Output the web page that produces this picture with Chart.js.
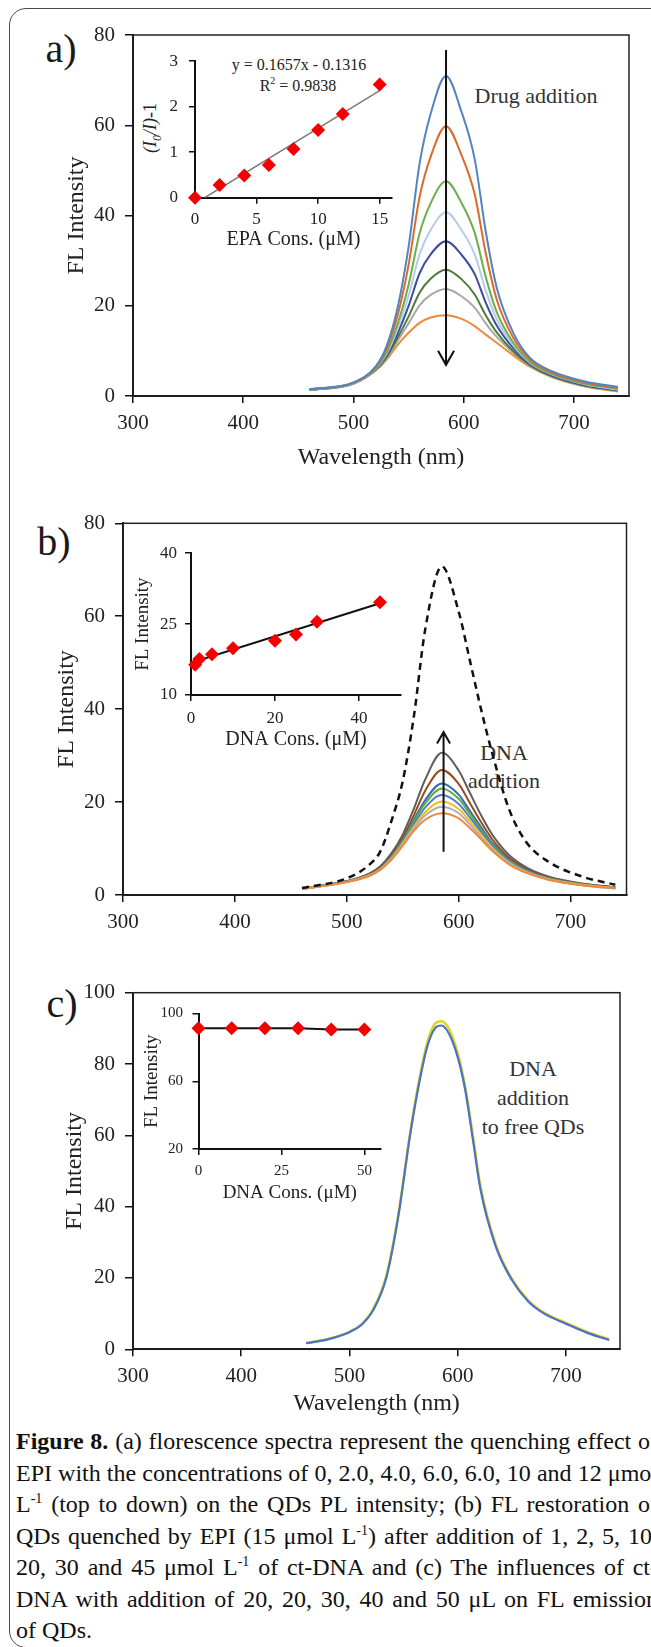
<!DOCTYPE html>
<html>
<head>
<meta charset="utf-8">
<title>Figure 8</title>
<script src="https://cdn.jsdelivr.net/npm/chart.js@4.4.1/dist/chart.umd.min.js"></script>
<style>
  body { margin: 0; width: 651px; height: 1647px; overflow: hidden; background: #fff; position: relative;
         font-family: "Liberation Serif", "Times New Roman", serif; color: #222; }
  canvas { position: absolute; }
  .frame { position: absolute; left: 9px; top: 8px; width: 720px; height: 1640px; box-sizing: border-box;
           border: 1.5px solid #4a4a4a; border-radius: 17px; }
  .lbl { position: absolute; white-space: nowrap; transform: translate(-50%, -50%); line-height: 1; }
  .panel { font-size: 40px; color: #1a1a1a; }
  .note { font-size: 22px; color: #333; text-align: center; line-height: 29px; }
  .cap { position: absolute; left: 16px; width: 642px; height: 31.5px; font-size: 24px; line-height: 31.5px;
         white-space: nowrap; text-align: justify; text-align-last: justify; color: #111; }
  .cap sup { font-size: 14px; vertical-align: 0; position: relative; top: -9px; line-height: 0; }
</style>
</head>
<body>
<div class="frame"></div>

<div class="lbl panel" style="left:61px;top:49px">a)</div>
<div class="lbl panel" style="left:54px;top:542px">b)</div>
<div class="lbl panel" style="left:62px;top:1004px">c)</div>

<div class="lbl note" style="left:536px;top:95px">Drug addition</div>
<div class="lbl note" style="left:504px;top:767px;line-height:28px">DNA<br>addition</div>
<div class="lbl note" style="left:533px;top:1097px">DNA<br>addition<br>to free QDs</div>

<div class="lbl" style="left:299px;top:65px;font-size:16px">y = 0.1657x - 0.1316</div>
<div class="lbl" style="left:298px;top:85px;font-size:16px">R<sup style="font-size:10px">2</sup> = 0.9838</div>
<div class="lbl" style="left:152px;top:128px;font-size:18px;transform:translate(-50%,-50%) rotate(-90deg)"><i>(I<sub style="font-size:12px">0</sub>/I)</i>-1</div>

<div class="cap" style="top:1426px"><b>Figure 8.</b> (a) florescence spectra represent the quenching effect of</div>
<div class="cap" style="top:1457.5px">EPI with the concentrations of 0, 2.0, 4.0, 6.0, 6.0, 10 and 12 μmol</div>
<div class="cap" style="top:1489px">L<sup>-1</sup> (top to down) on the QDs PL intensity; (b) FL restoration of</div>
<div class="cap" style="top:1520.5px">QDs quenched by EPI (15 μmol L<sup>-1</sup>) after addition of 1, 2, 5, 10,</div>
<div class="cap" style="top:1552px">20, 30 and 45 μmol L<sup>-1</sup> of ct-DNA and (c) The influences of ct-</div>
<div class="cap" style="top:1583.5px">DNA with addition of 20, 20, 30, 40 and 50 μL on FL emission</div>
<div class="cap" style="top:1615px;text-align-last:left">of QDs.</div>

<canvas id="chartA" width="651" height="480" style="left:0;top:0"></canvas>
<canvas id="chartB" width="651" height="460" style="left:0;top:480px"></canvas>
<canvas id="chartC" width="651" height="490" style="left:0;top:940px"></canvas>
<canvas id="insetA" width="272" height="215" style="left:130px;top:40px"></canvas>
<canvas id="insetB" width="291" height="220" style="left:120px;top:535px"></canvas>
<canvas id="insetC" width="266" height="210" style="left:125px;top:995px"></canvas>

<script>
// panel a: QD spectra with EPI 0 ... 15 µM (top to bottom)
const wlA = [460, 500, 520, 530, 540, 550, 560, 570, 584, 598, 610, 620, 630, 645, 660, 680, 710, 740];
const epi0  = [1.5, 3.0, 6.5, 11.0, 19.5, 33.0, 51.5, 62.5, 70.9, 63.0, 52.5, 36.5, 24.0, 14.0, 8.5, 5.5, 3.2, 2.0];
const epi2  = [1.5, 2.9, 6.3, 10.4, 17.8, 29.0, 44.1, 53.0, 59.8, 53.4, 44.7, 31.7, 21.4, 12.9, 8.1, 5.2, 3.0, 1.8];
const epi4  = [1.4, 2.9, 6.1, 9.7, 15.9, 24.6, 36.0, 42.7, 47.6, 42.8, 36.2, 26.4, 18.6, 11.8, 7.6, 4.9, 2.7, 1.6];
const epi6  = [1.4, 2.8, 6.0, 9.3, 14.8, 22.2, 31.4, 36.8, 40.7, 36.8, 31.4, 23.4, 17.0, 11.2, 7.4, 4.8, 2.6, 1.4];
const epi8  = [1.4, 2.8, 5.9, 8.9, 13.8, 19.9, 27.2, 31.4, 34.3, 31.3, 27.0, 20.7, 15.6, 10.6, 7.1, 4.6, 2.4, 1.3];
const epi10 = [1.3, 2.8, 5.8, 8.6, 12.9, 17.6, 22.9, 26.0, 28.0, 25.9, 22.5, 17.9, 14.1, 9.9, 6.9, 4.4, 2.3, 1.2];
const epi12 = [1.3, 2.7, 5.7, 8.3, 12.2, 16.1, 20.1, 22.4, 23.7, 22.1, 19.6, 16.1, 13.1, 9.6, 6.7, 4.3, 2.2, 1.1];
const epi15 = [1.3, 2.7, 5.6, 8.0, 11.3, 14.0, 16.2, 17.4, 17.9, 17.1, 15.5, 13.6, 11.8, 9.0, 6.5, 4.2, 2.1, 1.0];
const colorsA = ['#5484C0', '#DC6A2A', '#6CAE4A', '#B5CBEA', '#3C4CA2', '#4E7C38', '#A8A8A8', '#EF8A3A'];

// panel b: free QDs (dashed) and quenched QDs after DNA 0 ... 45 µM
const wlB = [460, 500, 520, 530, 540, 550, 560, 570, 585, 600, 610, 620, 630, 645, 660, 680, 710, 740];
const qdsOnly = [1.5, 3.6, 6.5, 9.4, 16.0, 24.5, 38.5, 57.0, 70.7, 61.0, 50.5, 40.0, 30.5, 18.5, 11.5, 7.2, 4.0, 2.2];
const dna0  = [1.3, 2.8, 4.1, 5.4, 7.6, 10.6, 13.8, 16.2, 17.6, 16.5, 14.4, 12.0, 9.5, 6.6, 4.8, 3.3, 2.1, 1.4];
const dna1  = [1.3, 2.8, 4.15, 5.5, 7.75, 10.9, 14.3, 17.1, 19.0, 17.6, 15.2, 12.4, 9.9, 6.8, 4.9, 3.4, 2.1, 1.4];
const dna2  = [1.3, 2.8, 4.2, 5.55, 7.9, 11.1, 14.7, 17.8, 20.1, 18.5, 15.9, 13.0, 10.2, 7.0, 5.0, 3.4, 2.2, 1.5];
const dna5  = [1.3, 2.9, 4.25, 5.65, 8.0, 11.3, 15.2, 18.8, 21.5, 19.6, 16.7, 13.6, 10.6, 7.2, 5.2, 3.5, 2.2, 1.5];
const dna10 = [1.3, 2.9, 4.3, 5.7, 8.2, 11.6, 15.8, 19.7, 22.9, 20.7, 17.5, 14.1, 10.9, 7.4, 5.3, 3.6, 2.3, 1.5];
const dna20 = [1.4, 2.9, 4.35, 5.8, 8.3, 11.8, 16.2, 20.4, 24.0, 21.6, 18.1, 14.6, 11.2, 7.6, 5.4, 3.6, 2.3, 1.6];
const dna30 = [1.4, 2.9, 4.5, 6.0, 8.6, 12.3, 17.2, 22.4, 26.9, 23.9, 19.8, 15.7, 12.0, 8.0, 5.7, 3.8, 2.4, 1.6];
const dna45 = [1.4, 3.0, 4.6, 6.2, 9.0, 13.0, 18.6, 24.8, 30.6, 26.8, 22.0, 17.2, 13.0, 8.6, 6.0, 4.0, 2.5, 1.7];
const colorsB = ['#EF8A3C', '#B0B0B0', '#F2BE1A', '#4C7ED0', '#64A844', '#2F6EB5', '#A0481A', '#5F5F5F'];

// panel c: free QDs with and without DNA
const wlC = [460, 480, 500, 511, 522, 534, 545, 556, 564, 572, 579, 585, 592, 600, 607, 614, 621, 635, 650, 665, 680, 700, 720, 740];
const qdsFree = [1.7, 2.8, 4.8, 6.8, 11.0, 20.0, 37.0, 60.0, 74.0, 85.0, 90.0, 90.8, 88.5, 82.0, 72.7, 59.0, 45.0, 29.0, 19.5, 13.5, 10.0, 7.2, 4.6, 2.6];
const qdsDna  = [1.8, 2.9, 4.9, 7.0, 11.3, 20.5, 37.5, 60.5, 74.8, 86.0, 91.3, 92.0, 89.8, 83.0, 73.5, 60.0, 45.8, 29.5, 19.8, 13.8, 10.2, 7.4, 4.8, 2.8];

// insets
const epaConc = [0, 2, 4, 6, 8, 10, 12, 15];
const epaRatio = [0, 0.28, 0.49, 0.72, 1.07, 1.49, 1.84, 2.49];
const epaFitX = [0.79, 15];
const epaFitY = [0, 2.354];
const dnaConcB = [1, 2, 5, 10, 20, 25, 30, 45];
const dnaFlB = [16.4, 17.6, 18.6, 19.9, 21.5, 22.8, 25.5, 29.6];
const dnaFitX = [0, 45];
const dnaFitY = [16.8, 29.4];
const dnaConcC = [0, 10, 20, 30, 40, 50];
const dnaFlC = [91.3, 91.3, 91.3, 91.3, 90.6, 90.6];

// ticks
const wlTicks = [300, 400, 500, 600, 700];
const flTicksAB = [0, 20, 40, 60, 80];
const flTicksC = [0, 20, 40, 60, 80, 100];
const epaTicks = [0, 5, 10, 15];
const ratioTicks = [0, 1, 2, 3];
const dnaTicksB = [0, 20, 40];
const insetTicksB = [10, 25, 40];
const dnaTicksC = [0, 25, 50];
const insetTicksC = [20, 60, 100];

const SERIF = "'Liberation Serif', 'Times New Roman', serif";
Chart.defaults.font.family = SERIF;
Chart.defaults.color = '#222';
Chart.defaults.animation = false;

const xy = (xs, ys) => xs.map((x, i) => ({ x, y: ys[i] }));

function axis(o) {
  return {
    type: 'linear', min: o.min, max: o.max,
    afterBuildTicks: s => { s.ticks = o.ticks.map(v => ({ value: v })); },
    afterFit: s => { if (s.isHorizontal()) s.height = o.size; else s.width = o.size; },
    border: { display: true, color: '#111', width: 2 },
    grid: { drawOnChartArea: false, drawTicks: true, tickLength: o.tickLen, color: '#111', lineWidth: 1.5 },
    ticks: { font: { family: SERIF, size: o.font }, color: '#222', padding: o.pad, maxRotation: 0, autoSkip: false },
    title: o.title
      ? { display: true, text: o.title, font: { family: SERIF, size: o.titleSize }, color: '#222', padding: o.titlePad }
      : { display: false }
  };
}

const boxPlugin = {
  id: 'box',
  afterDatasetsDraw(chart) {
    const { ctx, chartArea: a } = chart;
    ctx.save();
    ctx.strokeStyle = '#222';
    ctx.lineWidth = 1.5;
    ctx.strokeRect(a.left, a.top, a.right - a.left, a.bottom - a.top);
    ctx.restore();
  }
};

const arrowPlugin = {
  id: 'arrow',
  afterDatasetsDraw(chart, args, o) {
    const { ctx } = chart;
    const x = chart.scales.x.getPixelForValue(o.x);
    const y0 = chart.scales.y.getPixelForValue(o.from);
    const y1 = chart.scales.y.getPixelForValue(o.to);
    const dir = Math.sign(y1 - y0);
    ctx.save();
    ctx.strokeStyle = '#111';
    ctx.lineWidth = 2;
    ctx.beginPath();
    ctx.moveTo(x, y0);
    ctx.lineTo(x, y1);
    ctx.moveTo(x - o.head, y1 - dir * o.len);
    ctx.lineTo(x, y1);
    ctx.lineTo(x + o.head, y1 - dir * o.len);
    ctx.stroke();
    ctx.restore();
  }
};

function mainChart(id, datasets, o, plugins, arrow) {
  return new Chart(document.getElementById(id), {
    type: 'line',
    data: { datasets },
    options: {
      responsive: false, events: [],
      layout: { padding: { top: o.padTop, right: o.padRight, bottom: 0, left: 0 } },
      elements: { point: { radius: 0 }, line: { borderWidth: 2, cubicInterpolationMode: 'monotone' } },
      plugins: { legend: { display: false }, tooltip: { enabled: false }, arrow: arrow || {} },
      scales: {
        x: axis({ min: 300, max: 750, ticks: wlTicks, size: o.xSize, tickLen: 7, font: 21, pad: 8,
                  title: o.xTitle, titleSize: 24, titlePad: { top: 0, bottom: o.xTitlePad } }),
        y: axis({ min: 0, max: o.yMax, ticks: o.yTicks, size: o.ySize, tickLen: 8, font: 21, pad: 10,
                  title: 'FL Intensity', titleSize: 24, titlePad: { top: o.yTitlePad, bottom: 0 } })
      }
    },
    plugins
  });
}

function insetChart(id, datasets, o) {
  return new Chart(document.getElementById(id), {
    type: 'line',
    data: { datasets },
    options: {
      responsive: false, events: [],
      layout: { padding: { top: o.padTop, right: o.padRight, bottom: 0, left: 0 } },
      plugins: { legend: { display: false }, tooltip: { enabled: false } },
      scales: {
        x: axis({ min: o.xMin, max: o.xMax, ticks: o.xTicks, size: o.xSize, tickLen: 6, font: o.font, pad: o.xPad,
                  title: o.xTitle, titleSize: o.xTitleSize, titlePad: { top: 0, bottom: o.xTitlePad } }),
        y: axis({ min: o.yMin, max: o.yMax, ticks: o.yTicks, size: o.ySize, tickLen: 6, font: o.font, pad: o.yPad,
                  title: o.yTitle, titleSize: 19, titlePad: { top: o.yTitlePad, bottom: 0 } })
      }
    }
  });
}

const diamonds = (xs, ys) => ({
  data: xy(xs, ys), showLine: false, clip: false,
  pointStyle: 'rectRot', pointRadius: 7, pointBackgroundColor: '#F40000', pointBorderColor: '#F40000', pointBorderWidth: 0
});

// ---- panel a
mainChart('chartA',
  [epi0, epi2, epi4, epi6, epi8, epi10, epi12, epi15].map((ys, i) => ({ data: xy(wlA, ys), borderColor: colorsA[i] })),
  { padTop: 35, padRight: 22, xSize: 84, ySize: 133, yMax: 80, yTicks: flTicksAB,
    xTitle: 'Wavelength (nm)', xTitlePad: 7.6, yTitlePad: 62.6 },
  [boxPlugin, arrowPlugin],
  { x: 584, from: 76.7, to: 6.9, head: 8, len: 14 });

// ---- panel b
mainChart('chartB',
  [{ data: xy(wlB, qdsOnly), borderColor: '#111', borderWidth: 2.5, borderDash: [7, 5] }].concat(
    [dna0, dna1, dna2, dna5, dna10, dna20, dna30, dna45].map((ys, i) => ({ data: xy(wlB, ys), borderColor: colorsB[i] }))),
  { padTop: 43.3, padRight: 24.5, xSize: 45, ySize: 123, yMax: 80, yTicks: flTicksAB,
    xTitle: null, xTitlePad: 0, yTitlePad: 52 },
  [boxPlugin, arrowPlugin],
  { x: 586.5, from: 9.3, to: 35.1, head: 6.5, len: 11.5 });

// ---- panel c
mainChart('chartC',
  [{ data: xy(wlC, qdsFree), borderColor: '#4A72C6', borderWidth: 2.2 },
   { data: xy(wlC, qdsDna), borderColor: '#E2D41A', borderWidth: 2.6 }],
  { padTop: 52.7, padRight: 31, xSize: 80.7, ySize: 133, yMax: 100, yTicks: flTicksC,
    xTitle: 'Wavelength (nm)', xTitlePad: 11.6, yTitlePad: 60.6 },
  [boxPlugin]);

// ---- insets
insetChart('insetA',
  [diamonds(epaConc, epaRatio),
   { data: xy(epaFitX, epaFitY), borderColor: '#7A7A7A', borderWidth: 1.5, pointRadius: 0 }],
  { padTop: 15, padRight: 10, xMin: 0, xMax: 16, xTicks: epaTicks, xSize: 57.3, xPad: 5.7,
    xTitle: 'EPA Cons. (μM)', xTitleSize: 20, xTitlePad: 3,
    yMin: 0, yMax: 3, yTicks: ratioTicks, ySize: 65, yPad: 11, yTitle: null, yTitlePad: 0, font: 17 });

insetChart('insetB',
  [diamonds(dnaConcB, dnaFlB),
   { data: xy(dnaFitX, dnaFitY), borderColor: '#111', borderWidth: 2, pointRadius: 0 }],
  { padTop: 12, padRight: 10, xMin: 0, xMax: 50, xTicks: dnaTicksB, xSize: 60, xPad: 7.4,
    xTitle: 'DNA Cons. (μM)', xTitleSize: 20, xTitlePad: 3,
    yMin: 10, yMax: 40, yTicks: insetTicksB, ySize: 71, yPad: 8, yTitle: 'FL Intensity', yTitlePad: 11.6, font: 17 });

insetChart('insetC',
  [Object.assign(diamonds(dnaConcC, dnaFlC), { showLine: true, borderColor: '#111', borderWidth: 2 })],
  { padTop: 14, padRight: 10, xMin: 0, xMax: 55, xTicks: dnaTicksC, xSize: 56, xPad: 7.2,
    xTitle: 'DNA Cons. (μM)', xTitleSize: 19, xTitlePad: 0.6,
    yMin: 20, yMax: 100, yTicks: insetTicksC, ySize: 73.5, yPad: 9.5, yTitle: 'FL Intensity', yTitlePad: 15.2, font: 15 });
</script>
</body>
</html>
